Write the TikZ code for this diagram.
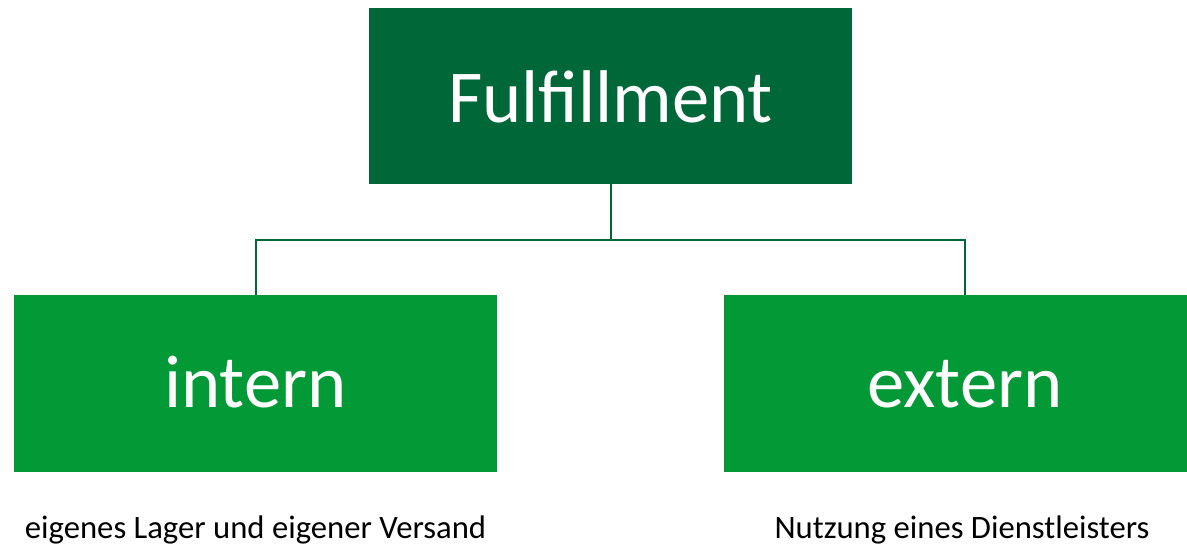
\documentclass[tikz,border=0pt]{standalone}
\usepackage{fontspec}
\setmainfont{Carlito}
\definecolor{fulfilgreen}{RGB}{0,103,56}
\definecolor{branchgreen}{RGB}{2,153,54}
\tikzset{
    mainbox/.style={fill=fulfilgreen, text=white, minimum width=362.25pt, minimum height=132pt,
        inner sep=0pt, font=\fontsize{56}{62}\selectfont, text height=39pt, text depth=0pt},
    sidebox/.style={mainbox, fill=branchgreen, minimum height=132.75pt, text height=35.5pt},
    link/.style={draw=fulfilgreen, line width=1.5pt},
    note/.style={anchor=base, font=\fontsize{24.5}{28}\selectfont}
}
\begin{document}
\begin{tikzpicture}[x=0.75pt, y=-0.75pt]
    \useasboundingbox (0,0) rectangle (1187,547);
    \node[mainbox] (fulfil) at (610.5, 96) {Fulfillment};
    \node[sidebox] (intern) at (255.5, 383.5) {intern};
    \node[sidebox] (extern) at (965, 383.5) {extern};
    \coordinate (split) at (610.5, 240);
    \draw[link] (fulfil.south) -- (split) -| (intern.north);
    \draw[link] (split) -| (extern.north);
    \node[note] (internnote) at (255.5, 538) {eigenes Lager und eigener Versand};
    \node[note] (externnote) at (962, 538) {Nutzung eines Dienstleisters};
\end{tikzpicture}
\end{document}
